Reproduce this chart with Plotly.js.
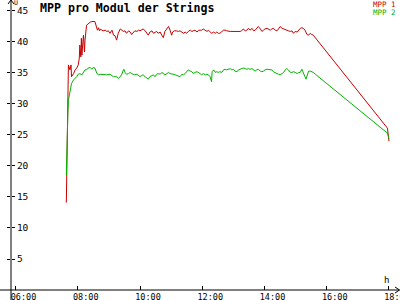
<!DOCTYPE html>
<html>
<head>
<meta charset="utf-8">
<script src="https://cdn.plot.ly/plotly-3.0.1.min.js"></script>
<style>html,body{margin:0;padding:0;background:#fff;}#chart{width:400px;height:300px;}</style>
</head>
<body>
<div id="chart"></div>
<script>
var DAY = '2024-06-01 ';
var mpp1Times = ['07:38','07:39','07:40','07:41','07:42','07:45','07:47','07:48','07:52','07:55','07:58','08:01','08:03','08:04','08:06','08:07','08:08','08:11','08:13','08:14','08:16','08:17','08:24','08:27','08:33','08:35','08:38','08:40','08:42','08:44','08:46','08:49','08:53','08:56','08:59','09:02','09:06','09:09','09:12','09:15','09:18','09:22','09:25','09:28','09:31','09:34','09:38','09:41','09:44','09:47','09:50','09:54','09:57','10:00','10:03','10:06','10:10','10:13','10:16','10:19','10:23','10:26','10:29','10:32','10:35','10:39','10:42','10:45','10:48','10:52','10:55','10:58','11:01','11:03','11:06','11:10','11:14','11:17','11:21','11:24','11:27','11:30','11:33','11:37','11:40','11:43','11:46','11:50','11:53','11:56','11:59','12:02','12:06','12:09','12:12','12:15','12:18','12:22','12:25','12:28','12:31','12:34','12:38','12:41','12:44','12:47','12:54','13:00','13:07','13:13','13:16','13:19','13:23','13:26','13:29','13:32','13:36','13:39','13:42','13:45','13:48','13:52','13:55','13:58','14:01','14:05','14:08','14:11','14:14','14:17','14:21','14:24','14:27','14:30','14:34','14:37','14:40','14:43','14:46','14:50','14:53','14:56','14:59','15:03','15:06','15:09','15:12','15:15','15:18','15:22','15:25','15:28','15:31','15:34','17:57','18:00'];
var mpp1Values = [14.1,18.3,24.7,28.8,36.3,35.5,36.3,34.4,34.9,35.5,35.8,36.3,37.4,39.5,37.6,40.6,37.9,41.1,38.4,40.3,42.5,42.7,43.2,43.3,43.3,42.7,41.9,42.3,41.8,42.1,41.9,41.8,41.9,41.7,41.8,41.4,41.9,41.1,41.0,40.3,41.4,42.1,41.9,41.7,41.8,41.4,41.8,41.6,41.2,41.6,41.8,41.7,41.9,41.8,42.0,42.1,41.8,41.4,41.1,41.6,41.8,41.4,41.6,41.7,41.4,41.6,41.1,40.7,41.7,42.2,42.5,41.9,41.1,41.6,41.8,41.8,41.7,41.8,41.6,41.4,41.6,41.4,41.7,41.9,41.7,41.8,41.9,41.6,41.9,41.9,41.9,42.1,41.8,41.7,41.9,41.7,41.4,41.6,41.4,41.6,41.4,41.4,41.7,41.9,41.9,41.8,41.7,41.7,41.6,41.7,41.8,42.1,41.8,41.9,42.2,41.9,42.2,41.8,41.9,42.3,42.5,42.1,41.7,41.9,42.1,42.2,42.1,41.9,42.1,42.2,41.9,41.8,42.1,42.5,42.2,42.1,41.9,41.9,41.8,41.7,41.8,41.4,41.7,41.6,41.9,42.2,42.3,42.2,41.9,41.2,41.1,41.4,41.2,41.1,26.1,24.0];

var mpp2Times = ['07:38','07:39','07:41','07:42','07:45','07:48','07:52','07:55','07:58','08:01','08:04','08:08','08:11','08:14','08:17','08:20','08:24','08:27','08:30','08:33','08:37','08:40','08:43','08:49','08:56','09:02','09:09','09:15','09:18','09:22','09:25','09:28','09:29','09:31','09:34','09:38','09:41','09:44','09:47','09:50','09:54','09:57','10:00','10:03','10:06','10:10','10:13','10:16','10:19','10:23','10:26','10:29','10:32','10:35','10:39','10:42','10:45','10:48','10:52','10:55','10:58','11:01','11:04','11:08','11:11','11:17','11:21','11:24','11:27','11:30','11:33','11:37','11:40','11:43','11:46','11:50','11:53','11:56','11:59','12:02','12:06','12:09','12:12','12:15','12:18','12:19','12:22','12:25','12:28','12:31','12:34','12:38','12:41','12:44','12:47','12:51','12:54','12:57','13:00','13:03','13:07','13:10','13:13','13:16','13:19','13:23','13:26','13:29','13:32','13:36','13:39','13:42','13:45','13:48','13:52','13:55','13:58','14:01','14:05','14:08','14:11','14:14','14:17','14:21','14:24','14:27','14:30','14:34','14:37','14:40','14:43','14:46','14:50','14:53','14:56','14:59','15:03','15:06','15:09','15:12','15:15','15:18','15:20','15:22','15:25','15:28','15:31','15:34','15:38','17:57','18:00'];
var mpp2Values = [18.5,23.7,28.6,30.6,32.0,33.3,33.9,34.1,34.4,34.8,34.9,34.7,35.2,35.5,35.5,35.8,35.9,35.6,35.9,35.8,34.9,34.7,34.8,34.7,34.7,34.8,34.4,34.4,34.1,34.4,34.8,35.5,35.6,35.1,34.8,34.9,35.1,34.9,34.8,34.7,34.8,34.6,34.4,34.6,34.7,34.4,34.2,34.0,34.4,34.6,34.7,34.4,34.8,34.9,34.8,35.1,34.9,34.7,34.9,35.1,34.9,34.8,34.8,34.7,34.6,34.4,34.8,34.7,34.9,35.2,35.5,35.3,35.2,34.9,35.1,35.2,35.1,34.9,34.7,34.9,34.7,34.8,34.7,34.4,33.6,35.2,35.5,35.1,35.2,35.1,35.2,35.1,35.5,35.6,35.5,35.6,35.7,35.5,35.6,35.3,35.2,35.5,35.6,35.7,35.8,35.7,35.6,35.7,35.6,35.7,35.5,35.3,35.5,35.6,35.3,35.2,35.3,35.5,35.6,35.6,35.6,35.5,35.2,35.1,34.9,34.8,34.7,34.9,35.1,35.5,35.7,35.5,35.1,35.1,35.2,35.1,34.9,35.1,35.1,35.6,35.1,34.4,34.0,34.7,35.3,35.3,35.2,35.1,34.8,25.3,24.4];

var tickTimes = ['06:00','08:00','10:00','12:00','14:00','16:00','18:00'];
var yTicks = [5,10,15,20,25,30,35,40,45];

var RED = '#c80000', GREEN = '#00b400';
var MONO = '"DejaVu Sans Mono", "Liberation Mono", monospace';
function d(t){ return DAY + t; }

var traces = [
  {x: mpp1Times.map(d), y: mpp1Values, type:'scatter', mode:'lines', name:'MPP 1',
   line:{color:RED, width:1}, hoverinfo:'skip'},
  {x: mpp2Times.map(d), y: mpp2Values, type:'scatter', mode:'lines', name:'MPP 2',
   line:{color:GREEN, width:1}, hoverinfo:'skip'},
  {x:[d('12:00')], y:[null], yaxis:'y2', type:'scatter', mode:'lines', showlegend:false, hoverinfo:'skip'}
];

var px = function(p){ return (p-11)/389; };
var py = function(p){ return (290-p)/290; };

var layout = {
  width:400, height:300,
  margin:{l:11, r:0, t:0, b:10, pad:0},
  paper_bgcolor:'#fff', plot_bgcolor:'#fff',
  showlegend:false,
  title:{text:'MPP pro Modul der Strings', x:0.1, xanchor:'left', xref:'container',
         y:0.988, yanchor:'top', yref:'container',
         font:{family:MONO, size:11.6, color:'#000', weight:'bold'}},
  xaxis:{type:'date', range:[d('05:51:20'), d('18:21:13')],
         tickvals: tickTimes.map(d), ticktext: tickTimes,
         ticks:'inside', ticklen:4, tickcolor:'#000', tickwidth:1,
         showgrid:false, zeroline:false, showline:false,
         tickfont:{family:MONO, size:8.5, color:'#000'},
         ticklabelshift:8, ticklabeloverflow:'allow', ticklabelstandoff:0,
         fixedrange:true},
  yaxis:{range:[0,46.77], tickvals:yTicks, showticklabels:false,
         ticks:'outside', ticklen:3, tickcolor:'#000', tickwidth:1,
         showgrid:false, zeroline:false, showline:false, fixedrange:true},
  yaxis2:{range:[0,46.77], overlaying:'y', side:'right', anchor:'free', position:0,
         tickvals:yTicks, ticktext:yTicks.map(String),
         ticks:'outside', ticklen:3, tickcolor:'#000', tickwidth:1,
         showgrid:false, zeroline:false, showline:false,
         tickfont:{family:MONO, size:9.5, color:'#000'}, ticklabelstandoff:0,
         fixedrange:true},
  shapes:[
    {type:'line', xref:'paper', yref:'paper', x0:0, x1:0, y0:py(300), y1:py(0), line:{color:'#000', width:1}},
    {type:'line', xref:'paper', yref:'paper', x0:px(0), x1:px(399.5), y0:0, y1:0, line:{color:'#000', width:1}},
    {type:'path', xref:'paper', yref:'paper', path:'M '+px(8)+','+py(4)+' L '+px(11)+','+py(0)+' L '+px(14)+','+py(4), line:{color:'#000', width:1}},
    {type:'path', xref:'paper', yref:'paper', path:'M '+px(395)+','+py(287)+' L '+px(399.5)+','+py(290)+' L '+px(395)+','+py(293), line:{color:'#000', width:1}}
  ],
  annotations:[
    {text:'U', xref:'paper', yref:'paper', x:px(13), y:py(-2.5), xanchor:'left', yanchor:'top', showarrow:false,
     borderpad:0, font:{family:MONO, size:6.5, color:'#000'}},
    {text:'h', xref:'paper', yref:'paper', x:px(386.5), y:py(280), xanchor:'center', yanchor:'middle', showarrow:false,
     font:{family:MONO, size:9, color:'#000'}},
    {text:'MPP 1', xref:'paper', yref:'paper', x:px(397), y:py(4), xanchor:'right', yanchor:'middle', showarrow:false,
     borderpad:0, font:{family:MONO, size:7.5, color:RED}},
    {text:'MPP 2', xref:'paper', yref:'paper', x:px(397), y:py(12.5), xanchor:'right', yanchor:'middle', showarrow:false,
     borderpad:0, font:{family:MONO, size:7.5, color:GREEN}}
  ]
};

Plotly.newPlot('chart', traces, layout, {staticPlot:true, displayModeBar:false});
</script>
</body>
</html>
